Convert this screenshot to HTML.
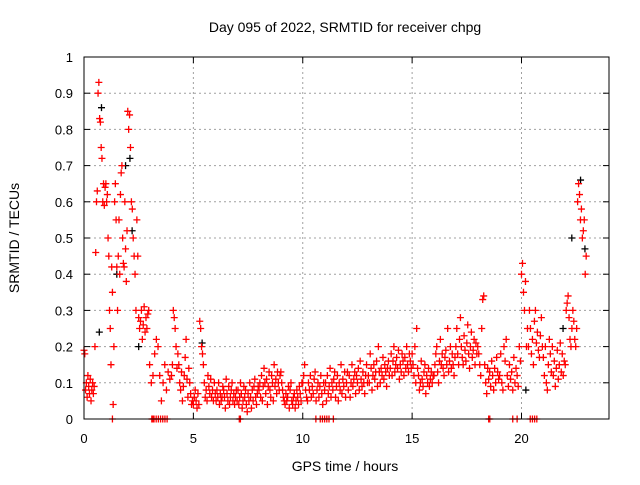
<!DOCTYPE html>
<html><head><meta charset="utf-8"><style>
body{margin:0;background:#fff;}
svg{font-family:"Liberation Sans",sans-serif;}
</style></head><body>
<svg id="chart" width="640" height="480" xmlns="http://www.w3.org/2000/svg">
<rect width="640" height="480" fill="#fff"/>
<text x="345" y="32" font-size="14" text-anchor="middle">Day 095 of 2022, SRMTID for receiver chpg</text>
<text transform="translate(19,238) rotate(-90)" font-size="14" text-anchor="middle">SRMTID / TECUs</text>
<text x="345" y="471" font-size="14" text-anchor="middle">GPS time / hours</text>
<g id="grid"></g><g id="ticks"></g><g id="black"></g><g id="red"></g>
<rect x="84" y="57" width="525" height="362" fill="none" stroke="#000" stroke-width="1"/>
</svg>
<script>
const xTicks=[0,5,10,15,20];
const yTicks=[0,0.1,0.2,0.3,0.4,0.5,0.6,0.7,0.8,0.9,1];
const yTickLabels=["0","0.1","0.2","0.3","0.4","0.5","0.6","0.7","0.8","0.9","1"];
const segStart=[0,1,2,3,4,5,6,7,8,9,10,11,12,13,14,15,16,17,18,19,20,21,22];
const segValues=[
[0.19,0.18,0.08,0.1,0.06,0.12,0.09,0.07,0.11,0.05,0.08,0.1,0.07,0.09,0.2,0.46,0.6,0.63,0.9,0.93,0.83,0.82,0.75,0.72,0.6,0.65,0.59,0.64],
[0.65,0.6,0.62,0.5,0.45,0.3,0.25,0.15,0.42,0.35,0.04,0.2,0.6,0.65,0.55,0.42,0.3,0.45,0.55,0.4,0.62,0.68,0.7,0.5,0.43,0.42,0.6,0.47,0.38,0.52],
[0.85,0.8,0.84,0.75,0.6,0.58,0.5,0.45,0.4,0.3,0.55,0.45,0.28,0.25,0.27,0.3,0.22,0.26,0.31,0.24,0.28,0.25,0.29,0.3],
[0.15,0.1,0.12,0.18,0.22,0.2,0.12,0.05,0.1,0.15,0.08,0.13,0.11],
[0.12,0.15,0.3,0.28,0.25,0.2,0.14,0.18,0.15,0.1,0.08,0.13,0.05,0.09,0.12,0.17,0.22,0.11,0.06,0.14,0.1,0.07,0.04,0.05],
[0.04,0.06,0.08,0.05,0.03,0.07,0.04,0.27,0.25,0.2,0.18,0.15,0.1,0.06,0.08,0.05,0.12,0.09,0.07,0.11,0.06,0.08,0.05,0.1],
[0.07,0.05,0.08,0.06,0.1,0.04,0.07,0.05,0.06,0.09,0.08,0.06,0.03,0.11,0.07,0.05,0.09,0.04,0.06,0.08,0.1,0.05,0.07,0.04,0.06,0.08],
[0.05,0.08,0.04,0.06,0.1,0.07,0.03,0.05,0.09,0.06,0.08,0.04,0.02,0.07,0.05,0.1,0.06,0.03,0.08,0.05,0.09,0.11,0.06,0.04,0.07,0.09],
[0.08,0.1,0.06,0.12,0.05,0.09,0.14,0.1,0.07,0.11,0.04,0.09,0.13,0.08,0.06,0.12,0.1,0.05,0.15,0.09,0.11,0.07,0.13,0.1,0.08,0.12],
[0.13,0.1,0.08,0.06,0.05,0.04,0.07,0.05,0.06,0.09,0.03,0.08,0.1,0.05,0.04,0.06,0.07,0.03,0.05,0.08,0.06,0.04,0.09,0.07,0.05,0.1],
[0.1,0.12,0.15,0.08,0.06,0.05,0.1,0.08,0.12,0.06,0.09,0.07,0.11,0.13,0.05,0.08,0.1,0.06,0.09,0.12,0.07,0.04,0.1],
[0.08,0.1,0.05,0.12,0.07,0.09,0.14,0.06,0.1,0.08,0.11,0.13,0.06,0.09,0.12,0.05,0.1,0.08,0.15,0.07,0.11,0.09,0.13,0.06],
[0.1,0.13,0.08,0.12,0.06,0.1,0.15,0.09,0.11,0.13,0.07,0.12,0.1,0.14,0.08,0.16,0.11,0.09,0.13,0.1,0.07,0.12,0.15,0.1],
[0.12,0.1,0.18,0.14,0.08,0.12,0.15,0.11,0.13,0.16,0.09,0.2,0.13,0.1,0.14,0.12,0.17,0.11,0.15,0.13,0.09,0.14,0.16,0.12],
[0.14,0.18,0.12,0.16,0.2,0.13,0.15,0.17,0.14,0.19,0.11,0.15,0.13,0.18,0.16,0.12,0.17,0.14,0.2,0.15,0.13,0.18,0.16,0.14],
[0.18,0.15,0.12,0.2,0.1,0.25,0.14,0.12,0.08,0.1,0.16,0.11,0.09,0.13,0.15,0.07,0.12,0.1,0.14,0.09,0.11,0.13,0.1,0.12],
[0.12,0.15,0.18,0.2,0.13,0.1,0.16,0.22,0.15,0.18,0.14,0.12,0.17,0.19,0.15,0.25,0.13,0.16,0.2,0.14,0.18,0.15,0.12,0.17],
[0.2,0.25,0.18,0.15,0.22,0.28,0.2,0.17,0.15,0.23,0.19,0.16,0.21,0.26,0.18,0.14,0.2,0.24,0.17,0.19,0.22,0.15,0.21,0.18],
[0.2,0.18,0.15,0.12,0.25,0.33,0.34,0.15,0.1,0.07,0.14,0.11,0.13,0.09,0.16,0.12,0.08,0.14,0.1,0.17,0.13,0.11],
[0.12,0.18,0.1,0.08,0.2,0.16,0.22,0.12,0.09,0.15,0.11,0.13,0.08,0.17,0.1,0.14,0.12,0.09,0.2,0.16],
[0.4,0.43,0.35,0.3,0.38,0.2,0.25,0.2,0.3,0.25,0.18,0.22,0.15,0.27,0.3,0.21,0.24,0.19,0.17,0.23,0.28,0.2],
[0.17,0.12,0.2,0.1,0.08,0.15,0.22,0.18,0.13,0.2,0.12,0.16,0.09,0.14,0.19,0.11,0.15,0.21,0.13,0.18,0.12,0.16],
[0.15,0.3,0.32,0.34,0.28,0.22,0.2,0.25,0.3,0.27,0.22,0.2,0.25,0.6,0.65,0.62,0.55,0.58,0.5,0.52,0.55,0.4,0.45]
];
const zeroHours=[1.3,3.1,3.15,3.2,3.3,3.4,3.5,3.6,3.7,3.8,7.1,7.15,10.6,10.8,10.9,11.0,11.1,11.2,11.4,18.5,18.55,19.6,19.8,20.4,20.5,20.6,20.7];
const blackHours=[0.8,1.5,1.9,2.1,2.2,5.4,22.3,22.7,22.9,21.9,20.2,0.7,2.5];
const blackValues=[0.86,0.4,0.7,0.72,0.52,0.21,0.5,0.66,0.47,0.25,0.08,0.24,0.2];
const X=h=>84+h*525/24, Y=v=>419-v*362;
const NS="http://www.w3.org/2000/svg";
function mk(tag,attrs,parent){const e=document.createElementNS(NS,tag);for(const k in attrs)e.setAttribute(k,attrs[k]);parent.appendChild(e);return e;}
const grid=document.getElementById('grid'),ticks=document.getElementById('ticks');
xTicks.forEach(t=>{
 if(t>0){const g=mk('line',{x1:X(t),x2:X(t),y1:57,y2:419,stroke:'#a0a0a0','stroke-dasharray':'2,3'},grid);
 
 }
 mk('line',{x1:X(t),x2:X(t),y1:419,y2:413,stroke:'#000'},ticks);
 mk('line',{x1:X(t),x2:X(t),y1:57,y2:63,stroke:'#000'},ticks);
 const l=mk('text',{x:X(t),y:443,'font-size':13,'text-anchor':'middle'},ticks);l.textContent=t;
 
 
});
yTicks.forEach((t,i)=>{
 if(t>0&&t<1){const g=mk('line',{x1:84,x2:609,y1:Y(t),y2:Y(t),stroke:'#a0a0a0','stroke-dasharray':'2,3'},grid);
 
 }
 mk('line',{x1:84,x2:90,y1:Y(t),y2:Y(t),stroke:'#000'},ticks);
 mk('line',{x1:609,x2:603,y1:Y(t),y2:Y(t),stroke:'#000'},ticks);
 const l=mk('text',{x:73,y:Y(t)+5,'font-size':13,'text-anchor':'end'},ticks);l.textContent=yTickLabels[i];
 
 
});
function plus(h,v,color,parent,name){
 const x=X(h),y=Y(v);
 const p=mk('path',{d:`M${x-3.5},${y}H${x+3.5}M${x},${y-3.5}V${y+3.5}`,stroke:color,'stroke-width':1.3,fill:'none'},parent);
 
 
}
const bl=document.getElementById('black'),rd=document.getElementById('red');
blackHours.forEach((h,i)=>plus(h,blackValues[i],'#000',bl,'black-point'));
segStart.forEach((s,si)=>{
 const vals=segValues[si];
 const next=si+1<segStart.length?segStart[si+1]:23;
 vals.forEach((v,i)=>plus(s+(next-s)*i/vals.length,v,'#f00',rd,'red-point'));
});
zeroHours.forEach(h=>plus(h,0,'#f00',rd,'zero-point'));
</script>
</body></html>
